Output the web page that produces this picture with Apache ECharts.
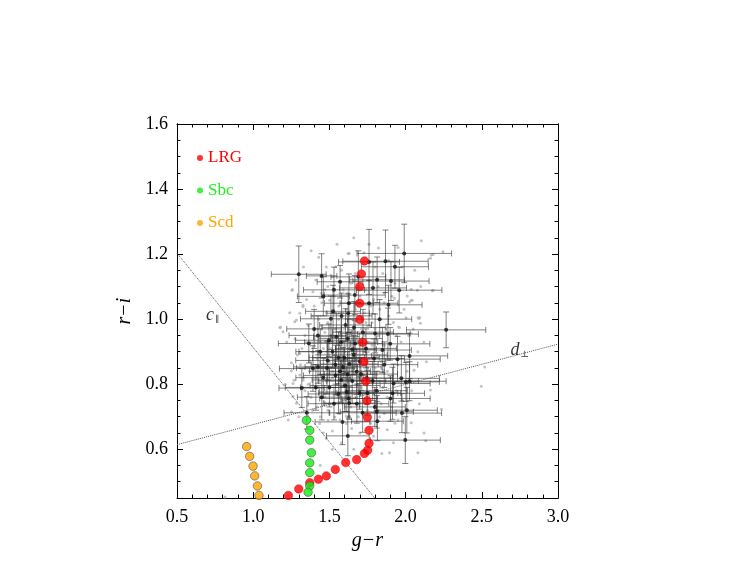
<!DOCTYPE html>
<html>
<head>
<meta charset="utf-8">
<script src="https://cdn.jsdelivr.net/npm/echarts@6/dist/echarts.min.js"></script>
<style>html,body{margin:0;padding:0;background:#fff}#c{width:736px;height:569px}</style>
</head>
<body>
<div id="c"></div>
<script>
// ---- data ----
const xTicks = [0.5, 1.0, 1.5, 2.0, 2.5, 3.0];
const yTicks = [0.6, 0.8, 1.0, 1.2, 1.4, 1.6];
const yMinorTicks = [0.45,0.5,0.55,0.6,0.65,0.7,0.75,0.8,0.85,0.9,0.95,1.0,1.05,1.1,1.15,1.2,1.25,1.3,1.35,1.4,1.45,1.5,1.55,1.6];

const lrgX = [1.231,1.299,1.371,1.428,1.480,1.539,1.607,1.679,1.730,1.751,1.760,1.760,1.749,1.747,1.738,1.727,1.719,1.699,1.699,1.699,1.710,1.730];
const lrgY = [0.458,0.478,0.497,0.508,0.518,0.538,0.559,0.568,0.587,0.597,0.618,0.658,0.698,0.749,0.809,0.869,0.929,0.999,1.049,1.100,1.139,1.179];
const sbcX = [1.349,1.371,1.371,1.382,1.371,1.371,1.371,1.360];
const sbcY = [0.689,0.658,0.628,0.589,0.558,0.528,0.487,0.468];
const scdX = [0.957,0.977,0.999,1.010,1.028,1.038];
const scdY = [0.608,0.578,0.548,0.518,0.487,0.458];

// black points with errors: [g-r, r-i, err(g-r), err(r-i)]
const measured = [
[1.299,1.138,0.18,0.087],[1.449,1.133,0.10,0.068],[1.991,1.202,0.31,0.090],[1.868,1.178,0.28,0.096],
[1.760,1.176,0.20,0.100],[1.930,1.161,0.22,0.066],[1.570,1.115,0.15,0.050],[1.904,1.117,0.25,0.060],
[1.813,1.121,0.18,0.070],[1.786,1.096,0.22,0.080],[1.958,1.089,0.28,0.070],[1.667,1.074,0.20,0.060],
[1.628,1.049,0.16,0.090],[1.760,1.049,0.19,0.070],[1.888,1.044,0.22,0.060],[1.524,1.024,0.18,0.080],
[1.623,1.018,0.14,0.060],[1.510,1.001,0.20,0.070],[1.606,0.982,0.17,0.050],[1.661,0.974,0.21,0.080],
[1.425,0.950,0.19,0.060],[1.546,0.946,0.15,0.070],[1.497,0.935,0.22,0.050],[1.577,0.929,0.24,0.090],
[1.365,0.925,0.20,0.060],[1.669,0.925,0.18,0.070],[1.800,0.956,0.23,0.060],[1.884,0.954,0.20,0.080],
[1.899,0.924,0.26,0.050],[1.848,0.905,0.19,0.070],[1.649,0.907,0.16,0.060],[2.266,0.967,0.26,0.055],
[2.026,0.887,0.25,0.070],[1.489,0.873,0.21,0.060],[1.560,0.881,0.17,0.080],[1.597,0.882,0.23,0.050],
[1.630,0.862,0.19,0.090],[1.793,0.879,0.20,0.060],[1.947,0.877,0.28,0.070],[1.392,0.848,0.22,0.070],
[1.425,0.853,0.16,0.050],[1.484,0.850,0.20,0.080],[1.590,0.853,0.25,0.060],[1.679,0.838,0.18,0.070],
[1.540,0.827,0.21,0.060],[1.707,0.831,0.24,0.050],[1.745,0.819,0.17,0.080],[1.577,0.813,0.19,0.070],
[1.784,0.810,0.30,0.060],[1.972,0.818,0.25,0.070],[2.002,0.807,0.22,0.060],[1.319,0.788,0.15,0.060],
[1.411,0.790,0.20,0.070],[1.603,0.796,0.23,0.080],[1.614,0.776,0.18,0.060],[1.698,0.773,0.27,0.050],
[1.749,0.773,0.20,0.070],[1.921,0.802,0.24,0.060],[1.914,0.772,0.21,0.080],[1.626,0.756,0.19,0.060],
[1.901,0.756,0.26,0.070],[1.630,0.742,0.17,0.050],[1.976,0.711,0.26,0.060],[2.008,0.720,0.20,0.070],
[1.718,0.712,0.22,0.060],[1.811,0.715,0.24,0.050],[1.352,0.712,0.15,0.050],[1.586,0.684,0.18,0.070],
[1.621,0.641,0.14,0.061],[1.998,0.628,0.23,0.072],[2.026,0.809,0.24,0.060],[1.798,0.730,0.20,0.060],
[1.815,0.686,0.17,0.060],
[1.46,1.07,0.17,0.06],[1.53,1.09,0.20,0.07],[1.69,1.13,0.18,0.08],[1.83,1.00,0.21,0.06],
[1.72,0.96,0.20,0.07],[1.62,0.94,0.19,0.06],[1.44,0.90,0.16,0.07],[1.52,0.90,0.22,0.05],
[1.70,0.87,0.17,0.06],[1.57,0.84,0.20,0.08],[1.46,0.82,0.18,0.06],[1.65,0.81,0.22,0.07],
[1.50,0.79,0.19,0.06],[1.56,0.77,0.20,0.06],[1.45,0.76,0.16,0.07],[1.68,0.74,0.21,0.06],
[1.53,0.74,0.17,0.05],[1.86,0.86,0.22,0.07],[1.81,0.78,0.20,0.06],[1.40,0.97,0.18,0.06],
[1.58,1.01,0.20,0.07],[1.66,0.89,0.22,0.06],[1.62,0.83,0.18,0.07],[1.54,0.86,0.16,0.06],
[1.74,0.91,0.20,0.06]
];

// faint points [g-r, r-i]
const faint = [
[2.245,1.207],[2.180,1.199],[2.163,1.187],[2.103,1.241],[2.077,1.089],[2.176,1.087],[2.037,1.092],[2.011,1.071],
[2.037,1.058],[1.927,1.064],[2.081,1.004],[2.097,0.987],[2.003,1.004],[1.960,0.974],[1.255,1.089],[1.327,1.043],
[1.284,0.997],[1.175,0.974],[1.392,1.084],[1.623,1.202],[1.542,1.161],[1.822,1.219],[1.727,1.204],[1.502,1.058],
[1.179,0.975],[1.275,0.940],[1.251,0.866],[1.268,0.812],[1.261,0.761],[1.284,0.741],[2.092,1.005],[2.026,1.053],
[2.136,0.869],[2.497,0.794],[2.169,1.197],[1.630,1.202],[1.327,1.038],[1.257,1.091],[1.447,1.079],[1.306,1.018],
[1.196,0.961],[1.273,0.992],[1.306,0.894],[1.251,0.841],[1.327,0.812],[1.306,0.828],[1.261,0.802],[1.251,0.715],
[1.436,0.679],[1.646,0.664],[1.520,0.656],[1.480,0.633],[1.491,0.689],[1.440,0.551],[1.894,0.589],[1.844,0.587],
[2.081,0.589],[2.121,0.650],[2.037,0.681],[1.612,0.679],[1.535,0.699],[0.815,0.453],[2.180,1.089],[2.044,1.058],
[2.088,1.002],[1.954,0.976],[2.055,0.843],[2.519,0.853],[1.998,0.869],[2.163,0.782],[2.235,0.723],[2.132,0.626],
[1.36,0.98],[1.39,1.01],[1.42,0.97],[1.45,1.05],[1.48,1.02],[1.53,1.07],[1.56,1.04],[1.59,1.09],
[1.64,1.11],[1.67,1.03],[1.70,1.07],[1.73,1.02],[1.79,1.06],[1.83,1.03],[1.86,1.08],[1.89,1.01],
[1.92,0.99],[1.44,0.93],[1.47,0.96],[1.51,0.91],[1.54,0.97],[1.58,0.95],[1.61,0.92],[1.64,0.96],
[1.68,0.94],[1.71,0.97],[1.75,0.93],[1.78,0.99],[1.82,0.95],[1.86,0.92],[1.39,0.90],[1.42,0.88],
[1.46,0.91],[1.50,0.87],[1.53,0.89],[1.57,0.86],[1.60,0.90],[1.63,0.88],[1.66,0.85],[1.69,0.89],
[1.72,0.86],[1.76,0.88],[1.80,0.85],[1.84,0.87],[1.88,0.84],[1.37,0.84],[1.41,0.82],[1.45,0.85],
[1.48,0.81],[1.52,0.84],[1.55,0.80],[1.59,0.83],[1.62,0.81],[1.65,0.84],[1.68,0.80],[1.72,0.83],
[1.77,0.81],[1.81,0.83],[1.85,0.79],[1.90,0.82],[1.34,0.78],[1.38,0.76],[1.43,0.79],[1.47,0.77],
[1.50,0.74],[1.54,0.77],[1.58,0.75],[1.61,0.78],[1.67,0.76],[1.71,0.79],[1.74,0.75],[1.79,0.77],
[1.84,0.74],[1.88,0.76],[1.94,0.78],[1.39,0.72],[1.44,0.70],[1.49,0.72],[1.56,0.71],[1.64,0.73],
[1.69,0.70],[1.75,0.72],[1.83,0.70],[1.91,0.73],[1.98,0.75],[1.35,1.06],[1.41,1.12],[1.47,1.09],
[1.52,1.13],[1.58,1.15],[1.67,1.14],[1.76,1.12],[1.85,1.14],[1.93,1.11],[1.99,1.03],[1.97,0.93],
[2.02,0.95],[1.95,0.86],[2.01,0.84],[1.49,0.99],[1.56,1.00],[1.65,1.00],[1.74,0.99],[1.60,0.97],
[1.55,0.93],[1.62,0.85],[1.59,0.87],[1.53,0.86],[1.67,0.91],[1.51,0.95],[1.45,0.98],[1.40,0.94],
[1.37,0.87],[1.32,0.91],[1.31,0.86],[1.34,0.95],[1.29,0.89],[1.33,0.82],[1.36,0.80],[1.70,0.92],
[1.73,0.90],[1.78,0.92],[1.81,0.89],[1.87,0.97],[1.94,0.95],[1.63,1.05],[1.69,1.10],[1.80,1.16],
[1.72,1.17],[1.89,1.18],[1.98,1.16],[1.48,1.16],[1.43,1.19],
[1.22,0.93],[1.24,1.02],[1.21,0.80],[1.23,0.69],[1.30,0.70],[1.28,1.12],[1.33,1.16],[1.38,1.21],
[1.55,1.23],[1.66,1.25],[1.76,1.23],[1.95,1.22],[2.06,1.15],[2.10,1.10],[2.05,0.97],[2.12,0.93],
[2.08,0.90],[2.04,0.78],[2.09,0.74],[1.95,0.69],[1.88,0.66],[1.79,0.64],[1.70,0.65],[1.58,0.62],
[1.52,0.60],[1.66,0.60],[1.92,0.62],[1.46,0.65],[1.42,0.73],[1.57,0.69],[1.63,0.70],[1.77,0.68],
[1.86,0.71],[1.93,0.68],[1.52,0.82],[1.60,0.80],[1.69,0.82],[1.75,0.85],[1.83,0.81],[1.47,0.88],
[1.55,0.90],[1.63,0.91],[1.73,0.95],[1.80,0.97],[1.43,1.00],[1.52,1.02],[1.61,1.03],[1.70,1.01],
[1.77,1.04],[1.86,1.05],[1.40,1.04],[1.49,1.10],[1.62,1.08],[1.74,1.09],[1.82,1.10],[1.91,1.07]
];

const cLine = [[0.5,1.203],[1.797,0.45]];
const dLine = [[0.5,0.614],[3.0,0.923]];
const notes = [[0.734,1.012,'{i|c}{s|∥}'],[2.749,0.905,'{i|d}{s|⊥}']];

// ---- chart ----
const SERIF = "'Liberation Serif','DejaVu Serif',serif";
const chart = echarts.init(document.getElementById('c'));
const zip = (xs, ys) => xs.map((x, i) => [x, ys[i]]);
const fmt = v => v.toFixed(1);

function errBar(params, api) {
  const x = api.value(0), y = api.value(1), ex = api.value(2), ey = api.value(3);
  const l = api.coord([x - ex, y]), r = api.coord([x + ex, y]);
  const t = api.coord([x, y + ey]), b = api.coord([x, y - ey]);
  const c = 3;
  const style = { stroke: 'rgba(50,50,50,0.6)', lineWidth: 1 };
  return { type: 'group', children: [
    { type: 'line', shape: { x1: l[0], y1: l[1], x2: r[0], y2: r[1] }, style },
    { type: 'line', shape: { x1: l[0], y1: l[1] - c, x2: l[0], y2: l[1] + c }, style },
    { type: 'line', shape: { x1: r[0], y1: r[1] - c, x2: r[0], y2: r[1] + c }, style },
    { type: 'line', shape: { x1: t[0], y1: t[1], x2: b[0], y2: b[1] }, style },
    { type: 'line', shape: { x1: t[0] - c, y1: t[1], x2: t[0] + c, y2: t[1] }, style },
    { type: 'line', shape: { x1: b[0] - c, y1: b[1], x2: b[0] + c, y2: b[1] }, style }
  ]};
}

const axisLine = { show: true, lineStyle: { color: '#000', width: 1 } };
const tickStyle = { color: '#000', width: 1 };
const xBase = {
  type: 'value', min: 0.5, max: 3.0, interval: 0.5,
  axisLine, splitLine: { show: false },
  axisTick: { inside: true, length: 6, lineStyle: tickStyle },
  minorTick: { show: true, splitNumber: 5, length: 3.5, lineStyle: tickStyle },
  minorSplitLine: { show: false }
};
const yMinor = {
  type: 'value', min: 0.45, max: 1.6, axisLine, splitLine: { show: false },
  axisTick: { inside: true, length: 3.5, lineStyle: tickStyle, customValues: yMinorTicks },
  axisLabel: { show: false }
};
const yMajor = {
  type: 'value', min: 0.45, max: 1.6, axisLine, splitLine: { show: false },
  axisTick: { inside: true, length: 6, lineStyle: tickStyle, customValues: yTicks },
  axisLabel: { show: false }
};

chart.setOption({
  animation: false,
  backgroundColor: '#fff',
  grid: { left: 177, right: 178, top: 124, bottom: 71 },
  legend: {
    orient: 'vertical', left: 192, top: 144, itemGap: 14.5,
    itemWidth: 6, itemHeight: 6, icon: 'circle',
    itemStyle: { borderWidth: 0 },
    textStyle: { fontFamily: SERIF, fontSize: 17, lineHeight: 18 },
    data: [
      { name: 'LRG', textStyle: { color: '#ff0000' } },
      { name: 'Sbc', textStyle: { color: '#22ee22' } },
      { name: 'Scd', textStyle: { color: '#ffa500' } }
    ]
  },
  xAxis: [
    Object.assign({}, xBase, {
      position: 'bottom',
      axisLabel: { fontFamily: SERIF, fontSize: 18, color: '#000', margin: 10, formatter: fmt, customValues: xTicks },
      name: 'g−r', nameLocation: 'middle', nameGap: 23,
      nameTextStyle: { fontFamily: SERIF, fontStyle: 'italic', fontSize: 20, color: '#000' }
    }),
    Object.assign({}, xBase, { position: 'top', axisLabel: { show: false } })
  ],
  yAxis: [
    Object.assign({}, yMinor, {
      position: 'left',
      axisLabel: { show: true, fontFamily: SERIF, fontSize: 18, color: '#000', margin: 9, formatter: fmt, customValues: yTicks },
      name: 'r−i', nameLocation: 'middle', nameRotate: 90, nameGap: 41,
      nameTextStyle: { fontFamily: SERIF, fontStyle: 'italic', fontSize: 20, color: '#000' }
    }),
    Object.assign({}, yMajor, { position: 'left' }),
    Object.assign({}, yMinor, { position: 'right' }),
    Object.assign({}, yMajor, { position: 'right' })
  ],
  series: [
    { name: 'faint', type: 'scatter', data: faint, symbolSize: 3,
      itemStyle: { color: '#b4b4b4' }, z: 1, silent: true },
    { name: 'errors', type: 'custom', data: measured, renderItem: errBar,
      encode: { x: 0, y: 1 }, clip: true, z: 2, silent: true },
    { name: 'measured', type: 'scatter', data: measured.map(d => [d[0], d[1]]), symbolSize: 4,
      itemStyle: { color: '#111' }, z: 3, silent: true },
    { name: 'cpar', type: 'line', data: cLine, symbol: 'none', clip: true, z: 2,
      lineStyle: { type: 'dotted', color: '#555', width: 1 }, silent: true },
    { name: 'dperp', type: 'line', data: dLine, symbol: 'none', clip: true, z: 2,
      lineStyle: { type: 'dotted', color: '#555', width: 1 }, silent: true },
    { name: 'LRG', type: 'scatter', data: zip(lrgX, lrgY), symbolSize: 8.5, z: 5,
      itemStyle: { color: '#ff0000', borderColor: '#dd0000', borderWidth: 0.6 } },
    { name: 'Sbc', type: 'scatter', data: zip(sbcX, sbcY), symbolSize: 8.5, z: 5,
      itemStyle: { color: '#11ee11', borderColor: '#4a4a4a', borderWidth: 0.7 } },
    { name: 'Scd', type: 'scatter', data: zip(scdX, scdY), symbolSize: 8.5, z: 5,
      itemStyle: { color: '#ffa500', borderColor: '#4a4a4a', borderWidth: 0.7 } },
    { name: 'notes', type: 'scatter', symbolSize: 0, z: 6, silent: true,
      data: notes.map(n => ({ value: [n[0], n[1]], label: { formatter: n[2] } })),
      label: { show: true, position: 'inside', color: '#000',
        rich: {
          i: { fontFamily: SERIF, fontStyle: 'italic', fontSize: 18, color: '#000' },
          s: { fontFamily: "'DejaVu Serif',serif", fontSize: 9, color: '#000', padding: [9, 0, 0, 1] }
        } } }
  ]
});
</script>
</body>
</html>
